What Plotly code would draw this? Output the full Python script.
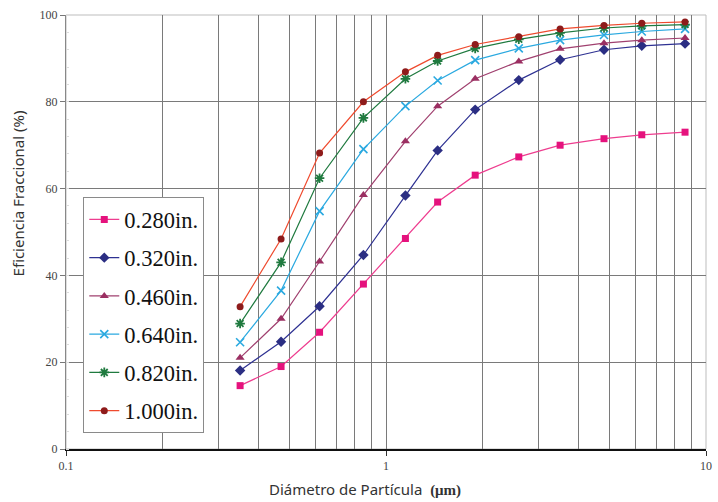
import plotly.graph_objects as go

diameters = [0.35, 0.47, 0.62, 0.85, 1.15, 1.45, 1.9, 2.6, 3.5, 4.8, 6.3, 8.6]

series_names = ["0.280in.", "0.320in.", "0.460in.", "0.640in.", "0.820in.", "1.000in."]
eff_0280 = [14.6, 19.0, 26.9, 38.0, 48.5, 56.9, 63.1, 67.3, 70.0, 71.5, 72.4, 73.0]
eff_0320 = [18.1, 24.7, 32.9, 44.7, 58.4, 68.8, 78.2, 85.0, 89.7, 92.0, 92.9, 93.4]
eff_0460 = [21.0, 30.0, 43.2, 58.5, 70.9, 79.0, 85.3, 89.3, 92.2, 93.5, 94.2, 94.7]
eff_0640 = [24.6, 36.5, 54.8, 69.1, 79.0, 84.9, 89.6, 92.3, 94.2, 95.4, 96.2, 96.8]
eff_0820 = [28.9, 43.0, 62.4, 76.3, 85.3, 89.4, 92.3, 94.4, 95.9, 97.0, 97.5, 97.8]
eff_1000 = [32.8, 48.4, 68.2, 80.0, 86.9, 90.7, 93.2, 95.0, 96.8, 97.6, 98.1, 98.4]

y_ticks = [0, 20, 40, 60, 80, 100]
x_ticks = [0.1, 1, 10]
x_ticklabels = ["0.1", "1", "10"]

styles = [
    dict(line="#EE3D8F", marker="#E5127D", symbol="square", size=7, lw=0),
    dict(line="#2E3192", marker="#2B2E83", symbol="diamond", size=8, lw=0),
    dict(line="#A0406F", marker="#9B2F62", symbol="triangle-up", size=8, lw=0),
    dict(line="#2AA9E0", marker="#2AA9E0", symbol="x-thin-open", size=8, lw=1.6),
    dict(line="#1F7A3F", marker="#1F7A3F", symbol="asterisk-open", size=8, lw=1.8),
    dict(line="#EF4A2E", marker="#8E1B1B", symbol="circle", size=7, lw=0),
]
all_series = [eff_0280, eff_0320, eff_0460, eff_0640, eff_0820, eff_1000]

fig = go.Figure()
for name, vals, st in zip(series_names, all_series, styles):
    fig.add_trace(go.Scatter(
        x=diameters, y=vals, name=name, mode="lines+markers",
        legendgroup=name,
        line=dict(color=st["line"], width=1.2),
        marker=dict(color=st["marker"], symbol=st["symbol"], size=st["size"],
                    line=dict(color=st["marker"], width=st["lw"])),
    ))

grid = "#7a7a7a"
tickfont = dict(family="Liberation Serif", size=12, color="#444")

fig.update_layout(
    width=718, height=502,
    margin=dict(l=66, r=6, t=15, b=53),
    paper_bgcolor="white", plot_bgcolor="white",
    showlegend=True,
    legend=dict(
        x=0.027, y=0.58, xanchor="left", yanchor="top",
        font=dict(family="Liberation Serif", size=22.5, color="#111"),
        bordercolor="#8a8a8a", borderwidth=1, bgcolor="white",
        tracegroupgap=6,
    ),
    xaxis=dict(
        type="log", range=[-1, 1],
        tickvals=x_ticks, ticktext=x_ticklabels,
        ticks="outside", ticklen=5, tickcolor="#333",
        tickfont=tickfont,
        showgrid=True, gridcolor=grid, gridwidth=1,
        minor=dict(dtick="D1", showgrid=True, gridcolor=grid, gridwidth=1, ticks=""),
        showline=True, linecolor="#111", linewidth=2, mirror=False,
        zeroline=False,
    ),
    yaxis=dict(
        range=[0, 100],
        tickvals=y_ticks,
        ticks="outside", ticklen=5, tickcolor="#777",
        tickfont=tickfont,
        showgrid=True, gridcolor=grid, gridwidth=1,
        minor=dict(dtick=4, ticks="inside", ticklen=3, tickcolor="#dddddd", showgrid=False),
        showline=True, linecolor="#888", linewidth=1,
        zeroline=False,
    ),
    shapes=[
        dict(type="rect", xref="paper", yref="paper", x0=0, x1=1, y0=0, y1=1,
             line=dict(color="#bdbdbd", width=1), fillcolor="rgba(0,0,0,0)", layer="below"),
    ],
    annotations=[
        dict(text="Diámetro de Partícula  <span style='font-family:Liberation Serif;font-weight:bold'>(μm)</span>",
             xref="paper", yref="paper", x=(368 - 66) / 646, y=-(489 - 449) / 434,
             xanchor="center", yanchor="middle", showarrow=False,
             font=dict(family="Noto Sans", size=15, color="#333")),
        dict(text="Eficiencia Fraccional (%)",
             xref="paper", yref="paper", x=(18 - 66) / 646, y=(449 - 193) / 434,
             xanchor="center", yanchor="middle", showarrow=False, textangle=-90,
             font=dict(family="Noto Sans", size=15, color="#333")),
    ],
)

fig.write_html(
    "out.html",
    config={"displayModeBar": False},
    post_script="document.body.style.margin='0';document.body.style.padding='0';",
)
